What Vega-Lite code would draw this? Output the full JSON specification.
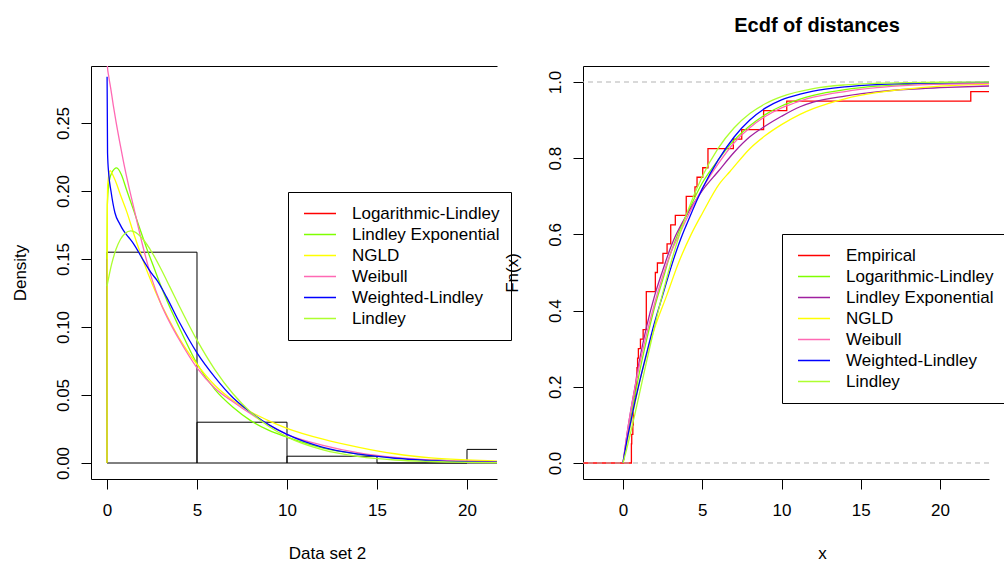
{
  "$schema": "https://vega.github.io/schema/vega-lite/v6.json",
  "background": "white",
  "padding": {"left": 11, "top": 16, "right": 0, "bottom": 0},
  "bounds": "flush",
  "spacing": 86,
  "resolve": {"scale": {"color": "independent"}},
  "config": {
    "font": "Liberation Sans",
    "view": {"stroke": null},
    "axis": {
      "labelFont": "Liberation Sans", "titleFont": "Liberation Sans",
      "labelFontSize": 17, "titleFontSize": 17, "titleFontWeight": "normal",
      "labelColor": "black", "titleColor": "black", "domainColor": "black", "tickColor": "black",
      "grid": false, "tickSize": 10, "domainWidth": 1, "tickWidth": 1
    },
    "legend": {
      "labelFont": "Liberation Sans", "labelFontSize": 17, "labelColor": "black",
      "symbolType": "stroke", "symbolSize": 1024, "symbolStrokeWidth": 1.5,
      "clipHeight": 21, "rowPadding": 0, "labelOffset": 15, "labelLimit": 300,
      "strokeColor": "black", "fillColor": "white", "cornerRadius": 0, "title": null
    }
  },
  "datasets": {
    "hist": [
      {"x": 0, "xe": 5, "y": 0.155},
      {"x": 5, "xe": 10, "y": 0.03},
      {"x": 10, "xe": 15, "y": 0.005},
      {"x": 15, "xe": 20, "y": 0},
      {"x": 20, "xe": 25, "y": 0.01}
    ],
    "dens": [
      {"s": "Lindley Exponential", "x": 0, "y": 0.15},
      {"s": "Lindley Exponential", "x": 0.02, "y": 0.19},
      {"s": "Lindley Exponential", "x": 0.1, "y": 0.205},
      {"s": "Lindley Exponential", "x": 0.25, "y": 0.213},
      {"s": "Lindley Exponential", "x": 0.54, "y": 0.217},
      {"s": "Lindley Exponential", "x": 0.8, "y": 0.212},
      {"s": "Lindley Exponential", "x": 1.09, "y": 0.2007},
      {"s": "Lindley Exponential", "x": 1.5, "y": 0.185},
      {"s": "Lindley Exponential", "x": 1.83, "y": 0.172},
      {"s": "Lindley Exponential", "x": 2.2, "y": 0.158},
      {"s": "Lindley Exponential", "x": 2.57, "y": 0.145},
      {"s": "Lindley Exponential", "x": 3, "y": 0.13},
      {"s": "Lindley Exponential", "x": 3.31, "y": 0.12},
      {"s": "Lindley Exponential", "x": 4, "y": 0.1},
      {"s": "Lindley Exponential", "x": 5, "y": 0.073},
      {"s": "Lindley Exponential", "x": 6, "y": 0.054},
      {"s": "Lindley Exponential", "x": 7, "y": 0.041},
      {"s": "Lindley Exponential", "x": 8, "y": 0.031},
      {"s": "Lindley Exponential", "x": 9, "y": 0.024},
      {"s": "Lindley Exponential", "x": 10, "y": 0.019},
      {"s": "Lindley Exponential", "x": 12, "y": 0.011},
      {"s": "Lindley Exponential", "x": 14, "y": 0.0065},
      {"s": "Lindley Exponential", "x": 16, "y": 0.0038},
      {"s": "Lindley Exponential", "x": 18, "y": 0.0022},
      {"s": "Lindley Exponential", "x": 20, "y": 0.0013},
      {"s": "Lindley Exponential", "x": 22, "y": 0.0008},
      {"s": "NGLD", "x": 0, "y": 0},
      {"s": "NGLD", "x": 0.01, "y": 0.17},
      {"s": "NGLD", "x": 0.04, "y": 0.205},
      {"s": "NGLD", "x": 0.17, "y": 0.215},
      {"s": "NGLD", "x": 0.35, "y": 0.211},
      {"s": "NGLD", "x": 0.54, "y": 0.205},
      {"s": "NGLD", "x": 0.75, "y": 0.197},
      {"s": "NGLD", "x": 1.09, "y": 0.185},
      {"s": "NGLD", "x": 1.5, "y": 0.168},
      {"s": "NGLD", "x": 2, "y": 0.149},
      {"s": "NGLD", "x": 2.5, "y": 0.132},
      {"s": "NGLD", "x": 3, "y": 0.117},
      {"s": "NGLD", "x": 3.5, "y": 0.104},
      {"s": "NGLD", "x": 4, "y": 0.092},
      {"s": "NGLD", "x": 5, "y": 0.0725},
      {"s": "NGLD", "x": 6, "y": 0.057},
      {"s": "NGLD", "x": 7, "y": 0.046},
      {"s": "NGLD", "x": 8, "y": 0.0375},
      {"s": "NGLD", "x": 9, "y": 0.031},
      {"s": "NGLD", "x": 10, "y": 0.0255},
      {"s": "NGLD", "x": 12, "y": 0.0175},
      {"s": "NGLD", "x": 14, "y": 0.0115},
      {"s": "NGLD", "x": 16, "y": 0.0068},
      {"s": "NGLD", "x": 18, "y": 0.0038},
      {"s": "NGLD", "x": 20, "y": 0.0022},
      {"s": "NGLD", "x": 22, "y": 0.0013},
      {"s": "Weibull", "x": 0.005, "y": 0.4},
      {"s": "Weibull", "x": 0.02, "y": 0.292},
      {"s": "Weibull", "x": 0.1, "y": 0.284},
      {"s": "Weibull", "x": 0.2, "y": 0.276},
      {"s": "Weibull", "x": 0.35, "y": 0.263},
      {"s": "Weibull", "x": 0.5, "y": 0.251},
      {"s": "Weibull", "x": 0.75, "y": 0.233},
      {"s": "Weibull", "x": 1, "y": 0.216},
      {"s": "Weibull", "x": 1.25, "y": 0.201},
      {"s": "Weibull", "x": 1.5, "y": 0.187},
      {"s": "Weibull", "x": 2, "y": 0.159},
      {"s": "Weibull", "x": 2.5, "y": 0.135},
      {"s": "Weibull", "x": 3, "y": 0.117},
      {"s": "Weibull", "x": 3.5, "y": 0.103},
      {"s": "Weibull", "x": 4, "y": 0.091},
      {"s": "Weibull", "x": 5, "y": 0.07},
      {"s": "Weibull", "x": 6, "y": 0.055},
      {"s": "Weibull", "x": 7, "y": 0.045},
      {"s": "Weibull", "x": 8, "y": 0.036},
      {"s": "Weibull", "x": 9, "y": 0.028},
      {"s": "Weibull", "x": 10, "y": 0.021},
      {"s": "Weibull", "x": 12, "y": 0.013},
      {"s": "Weibull", "x": 14, "y": 0.0075},
      {"s": "Weibull", "x": 16, "y": 0.0042},
      {"s": "Weibull", "x": 18, "y": 0.0023},
      {"s": "Weibull", "x": 20, "y": 0.0013},
      {"s": "Weibull", "x": 22, "y": 0.0008},
      {"s": "Weighted-Lindley", "x": 0.005, "y": 0.284},
      {"s": "Weighted-Lindley", "x": 0.03, "y": 0.228},
      {"s": "Weighted-Lindley", "x": 0.1, "y": 0.212},
      {"s": "Weighted-Lindley", "x": 0.22, "y": 0.2},
      {"s": "Weighted-Lindley", "x": 0.44, "y": 0.184},
      {"s": "Weighted-Lindley", "x": 0.7, "y": 0.176},
      {"s": "Weighted-Lindley", "x": 0.91, "y": 0.171},
      {"s": "Weighted-Lindley", "x": 1.2, "y": 0.166},
      {"s": "Weighted-Lindley", "x": 1.46, "y": 0.1615},
      {"s": "Weighted-Lindley", "x": 2.02, "y": 0.149},
      {"s": "Weighted-Lindley", "x": 2.5, "y": 0.139},
      {"s": "Weighted-Lindley", "x": 2.76, "y": 0.1346},
      {"s": "Weighted-Lindley", "x": 3.31, "y": 0.122},
      {"s": "Weighted-Lindley", "x": 4, "y": 0.104},
      {"s": "Weighted-Lindley", "x": 5, "y": 0.081},
      {"s": "Weighted-Lindley", "x": 6, "y": 0.063},
      {"s": "Weighted-Lindley", "x": 7, "y": 0.048},
      {"s": "Weighted-Lindley", "x": 7.94, "y": 0.0377},
      {"s": "Weighted-Lindley", "x": 9, "y": 0.028},
      {"s": "Weighted-Lindley", "x": 10, "y": 0.021},
      {"s": "Weighted-Lindley", "x": 12, "y": 0.0115},
      {"s": "Weighted-Lindley", "x": 14, "y": 0.0065},
      {"s": "Weighted-Lindley", "x": 16, "y": 0.0035},
      {"s": "Weighted-Lindley", "x": 18, "y": 0.0018},
      {"s": "Weighted-Lindley", "x": 20, "y": 0.0009},
      {"s": "Weighted-Lindley", "x": 22, "y": 0.0005},
      {"s": "Lindley", "x": 0, "y": 0.13},
      {"s": "Lindley", "x": 0.25, "y": 0.1458},
      {"s": "Lindley", "x": 0.5, "y": 0.1571},
      {"s": "Lindley", "x": 0.75, "y": 0.1645},
      {"s": "Lindley", "x": 1, "y": 0.1688},
      {"s": "Lindley", "x": 1.32, "y": 0.1707},
      {"s": "Lindley", "x": 1.5, "y": 0.1701},
      {"s": "Lindley", "x": 2, "y": 0.1645},
      {"s": "Lindley", "x": 2.5, "y": 0.1548},
      {"s": "Lindley", "x": 3, "y": 0.1426},
      {"s": "Lindley", "x": 3.5, "y": 0.1293},
      {"s": "Lindley", "x": 4, "y": 0.1158},
      {"s": "Lindley", "x": 5, "y": 0.0903},
      {"s": "Lindley", "x": 6, "y": 0.0685},
      {"s": "Lindley", "x": 7, "y": 0.0509},
      {"s": "Lindley", "x": 8, "y": 0.0372},
      {"s": "Lindley", "x": 9, "y": 0.0269},
      {"s": "Lindley", "x": 10, "y": 0.0192},
      {"s": "Lindley", "x": 12, "y": 0.0096},
      {"s": "Lindley", "x": 14, "y": 0.0047},
      {"s": "Lindley", "x": 16, "y": 0.0022},
      {"s": "Lindley", "x": 18, "y": 0.0011},
      {"s": "Lindley", "x": 20, "y": 0.0005},
      {"s": "Lindley", "x": 22, "y": 0.0002}
    ],
    "ecdf": [
      {"s": "Empirical", "x": -4, "y": 0},
      {"s": "Empirical", "x": 0.53, "y": 0.05},
      {"s": "Empirical", "x": 0.55, "y": 0.075},
      {"s": "Empirical", "x": 0.62, "y": 0.1},
      {"s": "Empirical", "x": 0.65, "y": 0.15},
      {"s": "Empirical", "x": 0.72, "y": 0.175},
      {"s": "Empirical", "x": 0.78, "y": 0.2},
      {"s": "Empirical", "x": 0.85, "y": 0.225},
      {"s": "Empirical", "x": 0.88, "y": 0.25},
      {"s": "Empirical", "x": 0.92, "y": 0.275},
      {"s": "Empirical", "x": 0.97, "y": 0.3},
      {"s": "Empirical", "x": 1.1, "y": 0.325},
      {"s": "Empirical", "x": 1.27, "y": 0.35},
      {"s": "Empirical", "x": 1.47, "y": 0.45},
      {"s": "Empirical", "x": 2.04, "y": 0.5},
      {"s": "Empirical", "x": 2.17, "y": 0.525},
      {"s": "Empirical", "x": 2.52, "y": 0.55},
      {"s": "Empirical", "x": 2.78, "y": 0.575},
      {"s": "Empirical", "x": 3.01, "y": 0.625},
      {"s": "Empirical", "x": 3.3, "y": 0.65},
      {"s": "Empirical", "x": 3.99, "y": 0.7},
      {"s": "Empirical", "x": 4.54, "y": 0.725},
      {"s": "Empirical", "x": 4.67, "y": 0.75},
      {"s": "Empirical", "x": 5.03, "y": 0.775},
      {"s": "Empirical", "x": 5.36, "y": 0.825},
      {"s": "Empirical", "x": 6.96, "y": 0.85},
      {"s": "Empirical", "x": 7.49, "y": 0.875},
      {"s": "Empirical", "x": 8.87, "y": 0.925},
      {"s": "Empirical", "x": 10.33, "y": 0.95},
      {"s": "Empirical", "x": 21.94, "y": 0.975},
      {"s": "Empirical", "x": 24.5, "y": 1},
      {"s": "Empirical", "x": 27, "y": 1}
    ],
    "cdf": [
      {"s": "Logarithmic-Lindley", "x": 0, "y": 0},
      {"s": "Logarithmic-Lindley", "x": 0.25, "y": 0.06},
      {"s": "Logarithmic-Lindley", "x": 0.5, "y": 0.12},
      {"s": "Logarithmic-Lindley", "x": 0.86, "y": 0.2},
      {"s": "Logarithmic-Lindley", "x": 1, "y": 0.23},
      {"s": "Logarithmic-Lindley", "x": 1.5, "y": 0.325},
      {"s": "Logarithmic-Lindley", "x": 2, "y": 0.41},
      {"s": "Logarithmic-Lindley", "x": 2.5, "y": 0.48},
      {"s": "Logarithmic-Lindley", "x": 3, "y": 0.55},
      {"s": "Logarithmic-Lindley", "x": 3.45, "y": 0.6},
      {"s": "Logarithmic-Lindley", "x": 4, "y": 0.65},
      {"s": "Logarithmic-Lindley", "x": 5, "y": 0.735},
      {"s": "Logarithmic-Lindley", "x": 6, "y": 0.795},
      {"s": "Logarithmic-Lindley", "x": 6.75, "y": 0.835},
      {"s": "Logarithmic-Lindley", "x": 8, "y": 0.885},
      {"s": "Logarithmic-Lindley", "x": 9, "y": 0.915},
      {"s": "Logarithmic-Lindley", "x": 10, "y": 0.937},
      {"s": "Logarithmic-Lindley", "x": 11.17, "y": 0.955},
      {"s": "Logarithmic-Lindley", "x": 12, "y": 0.965},
      {"s": "Logarithmic-Lindley", "x": 14, "y": 0.98},
      {"s": "Logarithmic-Lindley", "x": 16, "y": 0.989},
      {"s": "Logarithmic-Lindley", "x": 18, "y": 0.994},
      {"s": "Logarithmic-Lindley", "x": 20, "y": 0.997},
      {"s": "Logarithmic-Lindley", "x": 23.5, "y": 0.999},
      {"s": "Lindley Exponential", "x": 0, "y": 0},
      {"s": "Lindley Exponential", "x": 0.25, "y": 0.075},
      {"s": "Lindley Exponential", "x": 0.5, "y": 0.14},
      {"s": "Lindley Exponential", "x": 0.76, "y": 0.2},
      {"s": "Lindley Exponential", "x": 1, "y": 0.26},
      {"s": "Lindley Exponential", "x": 1.5, "y": 0.36},
      {"s": "Lindley Exponential", "x": 2, "y": 0.44},
      {"s": "Lindley Exponential", "x": 2.5, "y": 0.505},
      {"s": "Lindley Exponential", "x": 3, "y": 0.565},
      {"s": "Lindley Exponential", "x": 3.3, "y": 0.595},
      {"s": "Lindley Exponential", "x": 4, "y": 0.65},
      {"s": "Lindley Exponential", "x": 5, "y": 0.715},
      {"s": "Lindley Exponential", "x": 6, "y": 0.765},
      {"s": "Lindley Exponential", "x": 7, "y": 0.815},
      {"s": "Lindley Exponential", "x": 8, "y": 0.856},
      {"s": "Lindley Exponential", "x": 9, "y": 0.885},
      {"s": "Lindley Exponential", "x": 10, "y": 0.91},
      {"s": "Lindley Exponential", "x": 11.17, "y": 0.935},
      {"s": "Lindley Exponential", "x": 12, "y": 0.947},
      {"s": "Lindley Exponential", "x": 14, "y": 0.963},
      {"s": "Lindley Exponential", "x": 16, "y": 0.974},
      {"s": "Lindley Exponential", "x": 18, "y": 0.981},
      {"s": "Lindley Exponential", "x": 20, "y": 0.985},
      {"s": "Lindley Exponential", "x": 23.5, "y": 0.99},
      {"s": "NGLD", "x": 0, "y": 0},
      {"s": "NGLD", "x": 0.25, "y": 0.055},
      {"s": "NGLD", "x": 0.5, "y": 0.105},
      {"s": "NGLD", "x": 0.75, "y": 0.157},
      {"s": "NGLD", "x": 0.97, "y": 0.2},
      {"s": "NGLD", "x": 1.5, "y": 0.285},
      {"s": "NGLD", "x": 2, "y": 0.355},
      {"s": "NGLD", "x": 2.76, "y": 0.44},
      {"s": "NGLD", "x": 3.5, "y": 0.525},
      {"s": "NGLD", "x": 4.3, "y": 0.6},
      {"s": "NGLD", "x": 5, "y": 0.655},
      {"s": "NGLD", "x": 6.1, "y": 0.734},
      {"s": "NGLD", "x": 6.75, "y": 0.765},
      {"s": "NGLD", "x": 8, "y": 0.825},
      {"s": "NGLD", "x": 9, "y": 0.86},
      {"s": "NGLD", "x": 10, "y": 0.888},
      {"s": "NGLD", "x": 11.17, "y": 0.915},
      {"s": "NGLD", "x": 12, "y": 0.93},
      {"s": "NGLD", "x": 14, "y": 0.956},
      {"s": "NGLD", "x": 16, "y": 0.972},
      {"s": "NGLD", "x": 18, "y": 0.982},
      {"s": "NGLD", "x": 20, "y": 0.989},
      {"s": "NGLD", "x": 23.5, "y": 0.995},
      {"s": "Weibull", "x": 0, "y": 0},
      {"s": "Weibull", "x": 0.25, "y": 0.075},
      {"s": "Weibull", "x": 0.5, "y": 0.14},
      {"s": "Weibull", "x": 0.76, "y": 0.2},
      {"s": "Weibull", "x": 1, "y": 0.25},
      {"s": "Weibull", "x": 1.5, "y": 0.34},
      {"s": "Weibull", "x": 2, "y": 0.42},
      {"s": "Weibull", "x": 2.5, "y": 0.49},
      {"s": "Weibull", "x": 3, "y": 0.55},
      {"s": "Weibull", "x": 3.55, "y": 0.6},
      {"s": "Weibull", "x": 4, "y": 0.64},
      {"s": "Weibull", "x": 5, "y": 0.72},
      {"s": "Weibull", "x": 6, "y": 0.785},
      {"s": "Weibull", "x": 7, "y": 0.84},
      {"s": "Weibull", "x": 8, "y": 0.88},
      {"s": "Weibull", "x": 9, "y": 0.91},
      {"s": "Weibull", "x": 10, "y": 0.932},
      {"s": "Weibull", "x": 11.17, "y": 0.95},
      {"s": "Weibull", "x": 12, "y": 0.96},
      {"s": "Weibull", "x": 14, "y": 0.975},
      {"s": "Weibull", "x": 16, "y": 0.985},
      {"s": "Weibull", "x": 18, "y": 0.991},
      {"s": "Weibull", "x": 20, "y": 0.994},
      {"s": "Weibull", "x": 23.5, "y": 0.997},
      {"s": "Weighted-Lindley", "x": 0, "y": 0},
      {"s": "Weighted-Lindley", "x": 0.25, "y": 0.06},
      {"s": "Weighted-Lindley", "x": 0.5, "y": 0.11},
      {"s": "Weighted-Lindley", "x": 0.75, "y": 0.16},
      {"s": "Weighted-Lindley", "x": 0.97, "y": 0.2},
      {"s": "Weighted-Lindley", "x": 1.5, "y": 0.29},
      {"s": "Weighted-Lindley", "x": 2, "y": 0.37},
      {"s": "Weighted-Lindley", "x": 2.5, "y": 0.44},
      {"s": "Weighted-Lindley", "x": 3, "y": 0.51},
      {"s": "Weighted-Lindley", "x": 3.75, "y": 0.6},
      {"s": "Weighted-Lindley", "x": 4, "y": 0.625},
      {"s": "Weighted-Lindley", "x": 5, "y": 0.72},
      {"s": "Weighted-Lindley", "x": 6, "y": 0.795},
      {"s": "Weighted-Lindley", "x": 7, "y": 0.855},
      {"s": "Weighted-Lindley", "x": 8, "y": 0.9},
      {"s": "Weighted-Lindley", "x": 9, "y": 0.932},
      {"s": "Weighted-Lindley", "x": 10, "y": 0.953},
      {"s": "Weighted-Lindley", "x": 11.17, "y": 0.968},
      {"s": "Weighted-Lindley", "x": 12, "y": 0.976},
      {"s": "Weighted-Lindley", "x": 14, "y": 0.987},
      {"s": "Weighted-Lindley", "x": 16, "y": 0.993},
      {"s": "Weighted-Lindley", "x": 18, "y": 0.996},
      {"s": "Weighted-Lindley", "x": 20, "y": 0.998},
      {"s": "Weighted-Lindley", "x": 23.5, "y": 0.999},
      {"s": "Lindley", "x": 0, "y": 0},
      {"s": "Lindley", "x": 0.25, "y": 0.0398},
      {"s": "Lindley", "x": 0.5, "y": 0.083},
      {"s": "Lindley", "x": 0.75, "y": 0.1284},
      {"s": "Lindley", "x": 1, "y": 0.1751},
      {"s": "Lindley", "x": 1.5, "y": 0.2689},
      {"s": "Lindley", "x": 2, "y": 0.3596},
      {"s": "Lindley", "x": 2.5, "y": 0.4444},
      {"s": "Lindley", "x": 3, "y": 0.5217},
      {"s": "Lindley", "x": 3.5, "y": 0.591},
      {"s": "Lindley", "x": 4, "y": 0.6523},
      {"s": "Lindley", "x": 5, "y": 0.7522},
      {"s": "Lindley", "x": 6, "y": 0.826},
      {"s": "Lindley", "x": 7, "y": 0.8794},
      {"s": "Lindley", "x": 8, "y": 0.9172},
      {"s": "Lindley", "x": 9, "y": 0.9436},
      {"s": "Lindley", "x": 10, "y": 0.9618},
      {"s": "Lindley", "x": 12, "y": 0.9828},
      {"s": "Lindley", "x": 14, "y": 0.9924},
      {"s": "Lindley", "x": 16, "y": 0.9967},
      {"s": "Lindley", "x": 18, "y": 0.9986},
      {"s": "Lindley", "x": 20, "y": 0.9994},
      {"s": "Lindley", "x": 23.5, "y": 0.9998}
    ],
    "hlines": [{"h": 0}, {"h": 1}]
  },
  "hconcat": [
    {
      "width": 406,
      "height": 413,
      "resolve": {"axis": {"x": "independent"}},
      "layer": [
        {
          "data": {"name": "hist"},
          "mark": {"type": "rect", "filled": false, "stroke": "black", "strokeWidth": 1, "clip": true},
          "encoding": {
            "x": {"field": "x", "type": "quantitative",
                  "scale": {"domain": [-0.889, 21.667], "nice": false, "zero": false},
                  "axis": {"values": [0, 5, 10, 15, 20], "title": "Data set 2", "labelPadding": 21,
                           "labelBaseline": "middle",
                           "titleX": 236, "titleY": 74, "titleBaseline": "middle", "labelFlush": false}},
            "x2": {"field": "xe"},
            "y": {"field": "y", "type": "quantitative",
                  "scale": {"domain": [-0.01176, 0.2919], "nice": false, "zero": false},
                  "axis": {"values": [0, 0.05, 0.1, 0.15, 0.2, 0.25], "format": ".2f", "title": "Density",
                           "labelAngle": -90, "labelAlign": "center", "labelBaseline": "bottom", "labelPadding": 9,
                           "titleX": -71, "titleBaseline": "middle", "labelFlush": false}},
            "y2": {"datum": 0}
          }
        },
        {
          "data": {"name": "dens"},
          "mark": {"type": "line", "strokeWidth": 1.3, "clip": true, "interpolate": "monotone"},
          "encoding": {
            "x": {"field": "x", "type": "quantitative",
                  "axis": {"orient": "top", "labels": false, "ticks": false, "title": null, "domain": true}},
            "y": {"field": "y", "type": "quantitative"},
            "color": {"field": "s", "type": "nominal",
                      "scale": {"domain": ["Logarithmic-Lindley", "Lindley Exponential", "NGLD", "Weibull", "Weighted-Lindley", "Lindley"],
                                "range": ["#FF0000", "#7FFF00", "#FFFF00", "#FF69B4", "#0000FF", "#ADFF2F"]},
                      "legend": {"orient": "none", "legendX": 197, "legendY": 126, "padding": 11, "symbolOffset": 4}},
            "order": {"field": "x", "type": "quantitative"}
          }
        }
      ]
    },
    {
      "width": 406,
      "height": 413,
      "title": {"text": "Ecdf of distances", "fontSize": 20, "fontWeight": "bold", "font": "Liberation Sans", "color": "black", "dx": 31, "offset": 30},
      "resolve": {"axis": {"x": "independent"}},
      "layer": [
        {
          "data": {"name": "ecdf"},
          "mark": {"type": "line", "strokeWidth": 1.3, "clip": true, "interpolate": "step-after"},
          "encoding": {
            "x": {"field": "x", "type": "quantitative",
                  "scale": {"domain": [-2.524, 23.09], "nice": false, "zero": false},
                  "axis": {"values": [0, 5, 10, 15, 20], "title": "x", "labelPadding": 21,
                           "labelBaseline": "middle",
                           "titleX": 239, "titleY": 74, "titleBaseline": "middle", "labelFlush": false}},
            "y": {"field": "y", "type": "quantitative",
                  "scale": {"domain": [-0.042, 1.042], "nice": false, "zero": false},
                  "axis": {"values": [0, 0.2, 0.4, 0.6, 0.8, 1], "format": ".1f", "title": "Fn(x)",
                           "labelAngle": -90, "labelAlign": "center", "labelBaseline": "bottom", "labelPadding": 9,
                           "titleX": -71, "titleBaseline": "middle", "labelFlush": false}},
            "color": {"field": "s", "type": "nominal",
                      "scale": {"domain": ["Empirical", "Logarithmic-Lindley", "Lindley Exponential", "NGLD", "Weibull", "Weighted-Lindley", "Lindley"],
                                "range": ["#FF0000", "#7FFF00", "#A020A0", "#FFFF00", "#FF69B4", "#0000FF", "#ADFF2F"]},
                      "legend": {"orient": "none", "legendX": 199, "legendY": 168, "padding": 11, "symbolOffset": 4}},
            "order": {"field": "x", "type": "quantitative"}
          }
        },
        {
          "data": {"name": "hlines"},
          "mark": {"type": "rule", "color": "#B3B3B3", "strokeDash": [5, 4], "strokeWidth": 1},
          "encoding": {
            "y": {"field": "h", "type": "quantitative"}
          }
        },
        {
          "data": {"name": "cdf"},
          "mark": {"type": "line", "strokeWidth": 1.3, "clip": true, "interpolate": "monotone"},
          "encoding": {
            "x": {"field": "x", "type": "quantitative",
                  "axis": {"orient": "top", "labels": false, "ticks": false, "title": null, "domain": true}},
            "y": {"field": "y", "type": "quantitative"},
            "color": {"field": "s", "type": "nominal"},
            "order": {"field": "x", "type": "quantitative"}
          }
        }
      ]
    }
  ]
}
